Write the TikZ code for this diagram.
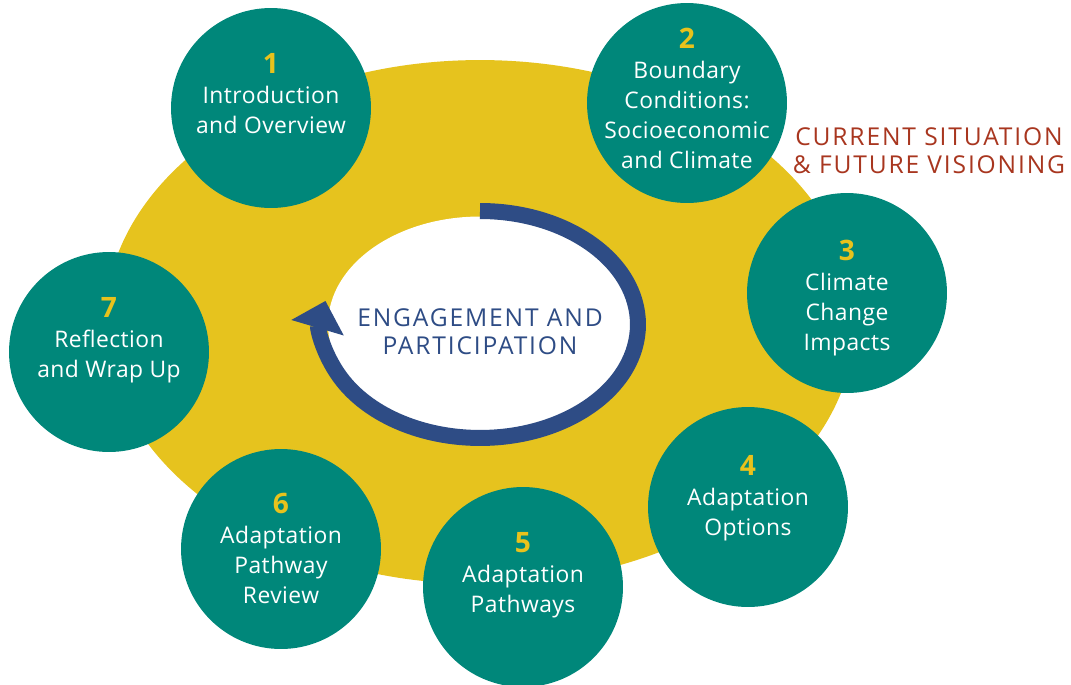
\documentclass[tikz,border=0pt]{standalone}
\usepackage{fontspec}
\setmainfont{Open Sans}
\newfontfamily\spacedfont[LetterSpace=7.5]{Open Sans}
\newfontfamily\stepfont[LetterSpace=2]{Open Sans}
\usepackage{xcolor}
\definecolor{stepteal}{RGB}{0,135,122}
\definecolor{ringyellow}{RGB}{230,195,30}
\definecolor{numyellow}{RGB}{232,194,28}
\definecolor{loopblue}{RGB}{46,76,133}
\definecolor{phasered}{RGB}{168,54,31}
\usetikzlibrary{arrows.meta,positioning,calc}

\tikzset{
  stepcircle/.style={circle, fill=stepteal, minimum size=4cm, inner sep=0pt},
  steptext/.style={anchor=north, inner sep=0pt, align=center, text=white, font=\stepfont\fontsize{13}{17}\selectfont},
  looptext/.style={anchor=north, inner sep=0pt, align=center, text=loopblue, font=\spacedfont\fontsize{14}{16.4}\selectfont},
  phasetext/.style={anchor=north, inner sep=0pt, align=center, text=phasered, font=\spacedfont\fontsize{14}{16}\selectfont},
}
\newcommand{\stepnum}[1]{{\fontsize{16}{17}\selectfont\bfseries\color{numyellow}#1}}

\begin{document}
\begin{tikzpicture}[x=0.02cm, y=-0.02cm]
  \useasboundingbox (0,0) rectangle (1071,684);
  %% yellow ring and inner loop
  \fill[ringyellow] (480,322) ellipse [x radius=7.5cm, y radius=5.24cm];
  \fill[white] (480,324.5) ellipse [x radius=3.04cm, y radius=2.16cm];
  \draw[loopblue, line width=0.32cm, -{Triangle[length=0.56cm, width=1.06cm]}]
    (480,211) arc [start angle=90, end angle=-192, x radius=3.16cm, y radius=2.27cm];
  \node[looptext] (loop) at (480,308) {ENGAGEMENT AND\\PARTICIPATION};
  %% steps
  \node[stepcircle] (s1) at (271,108) {};
  \node[stepcircle] (s2) at (687,103) {};
  \node[stepcircle] (s3) at (847,293) {};
  \node[stepcircle] (s4) at (748,507) {};
  \node[stepcircle] (s5) at (523,587) {};
  \node[stepcircle] (s6) at (281,549) {};
  \node[stepcircle] (s7) at (109,352) {};
  \node[steptext] (t1) at (271,53) {\stepnum{1}\\Introduction\\and Overview};
  \node[steptext] (t2) at (687,28) {\stepnum{2}\\Boundary\\Conditions:\\Socioeconomic\\and Climate};
  \node[steptext] (t3) at (847,240) {\stepnum{3}\\Climate\\Change\\Impacts};
  \node[steptext] (t4) at (748,455) {\stepnum{4}\\Adaptation\\Options};
  \node[steptext] (t5) at (523,532) {\stepnum{5}\\Adaptation\\Pathways};
  \node[steptext] (t6) at (281,493) {\stepnum{6}\\Adaptation\\Pathway\\Review};
  \node[steptext] (t7) at (109,297) {\stepnum{7}\\Reflection\\and Wrap Up};
  %% phase label
  \node[phasetext] (phase) at (929,127) {CURRENT SITUATION\\\& FUTURE VISIONING};
\end{tikzpicture}
\end{document}
